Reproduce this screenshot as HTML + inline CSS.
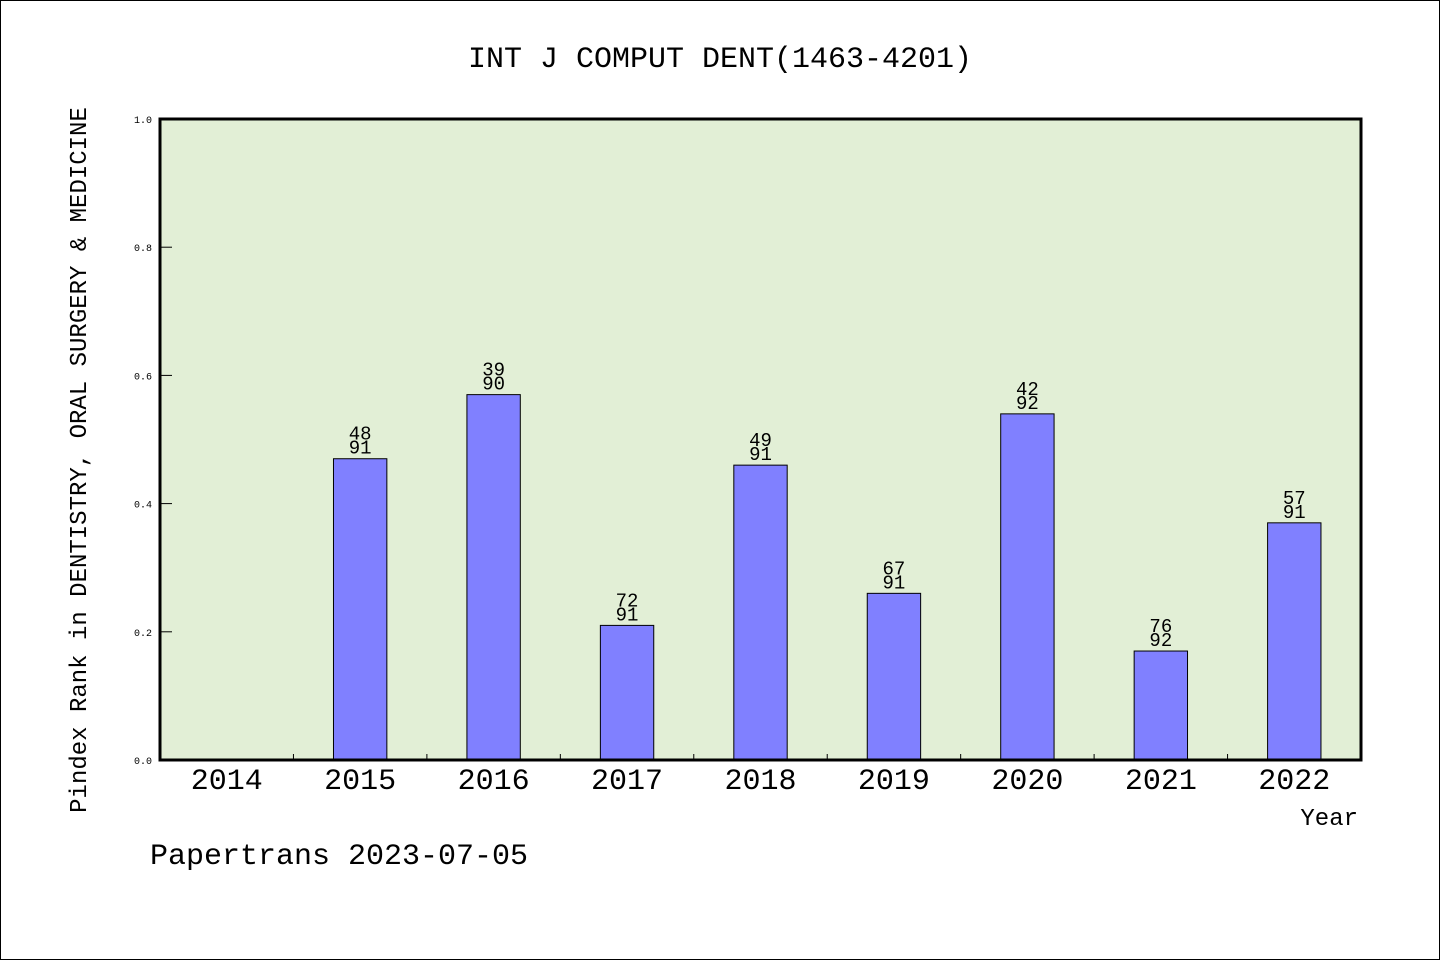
<!DOCTYPE html>
<html><head><meta charset="utf-8"><style>
body{margin:0;background:#fff}
svg{display:block}
text{font-family:"Liberation Mono","DejaVu Sans Mono",monospace;fill:#000}
</style></head><body>
<svg id="chart" width="1440" height="960" viewBox="0 0 1440 960" xmlns="http://www.w3.org/2000/svg">
<rect x="0.5" y="0.5" width="1439" height="959" fill="#fff" stroke="#000"/>
<text x="720" y="67" text-anchor="middle" font-size="30">INT J COMPUT DENT(1463-4201)</text>
<rect x="160" y="119" width="1201" height="641" fill="#e2efd6"/>
<g id="marks"></g>
<rect x="160" y="119" width="1201" height="641" fill="none" stroke="#000" stroke-width="3"/>
<text transform="translate(86,460) rotate(-90)" text-anchor="middle" font-size="24">Pindex Rank in DENTISTRY, ORAL SURGERY &amp; MEDICINE</text>
<text x="1358" y="825" text-anchor="end" font-size="24">Year</text>
<text x="150" y="864" font-size="30">Papertrans 2023-07-05</text>
</svg>
<script>
const categories=["2014","2015","2016","2017","2018","2019","2020","2021","2022"];
const values=[null,0.47,0.57,0.21,0.46,0.26,0.54,0.17,0.37];
const ranks=[null,"48","39","72","49","67","42","76","57"];
const totals=[null,"91","90","91","91","91","92","92","91"];
const yTicks=[0,0.2,0.4,0.6,0.8,1.0];
const X0=160,X1=1361,Y0=760,Y1=119;
const slot=(X1-X0)/categories.length;
const xC=i=>X0+slot*(i+0.5);
const y=v=>Y0-(Y0-Y1)*v;
const g=document.getElementById('marks');
const NS="http://www.w3.org/2000/svg";
function mk(t,a){const e=document.createElementNS(NS,t);for(const k in a)e.setAttribute(k,a[k]);g.appendChild(e);return e;}
yTicks.forEach(v=>{
  const l=mk('line',{x1:X0,x2:X0+12,y1:y(v),y2:y(v),stroke:'#000','stroke-width':1});
  
  
  const t=mk('text',{x:152,y:y(v)+4,'text-anchor':'end','font-size':10});
  t.textContent=v.toFixed(1);
  
  
});
categories.forEach((c,i)=>{
  if(i>0){const l=mk('line',{x1:X0+slot*i,x2:X0+slot*i,y1:Y0,y2:Y0-6,stroke:'#000','stroke-width':1});
  
  }
  const t=mk('text',{x:xC(i),y:789,'text-anchor':'middle','font-size':30});
  t.textContent=c;
  
  
  const v=values[i];
  if(v==null)return;
  const w=slot*0.4;
  const b=mk('rect',{x:xC(i)-w/2,y:y(v),width:w,height:Y0-y(v),fill:'#8080ff',stroke:'#000','stroke-width':1});
  
  
  const r=mk('text',{x:xC(i),y:y(v)-19,'text-anchor':'middle','font-size':19});
  r.textContent=ranks[i];
  
  
  const tt=mk('text',{x:xC(i),y:y(v)-5,'text-anchor':'middle','font-size':19});
  tt.textContent=totals[i];
  
  
});
</script>
</body></html>
